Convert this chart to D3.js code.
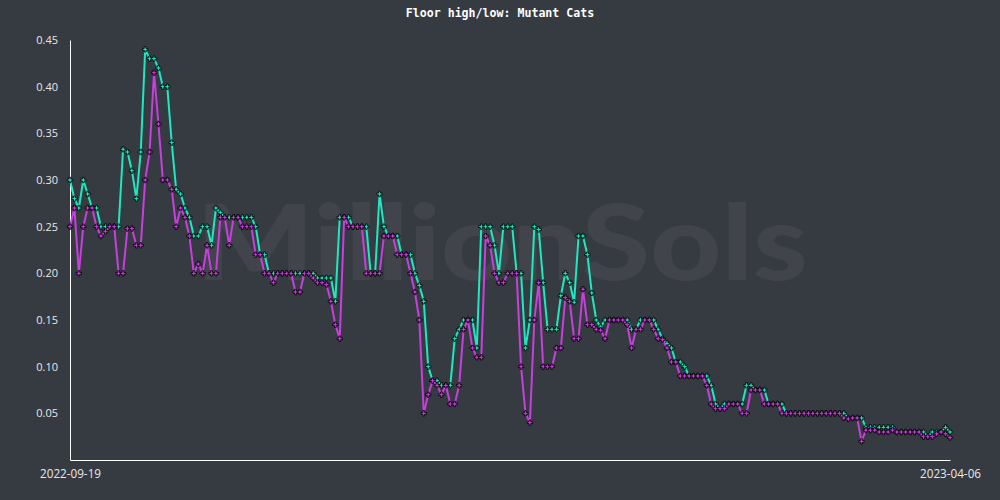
<!DOCTYPE html>
<html>
<head>
<meta charset="utf-8">
<script src="https://cdn.jsdelivr.net/npm/d3@7"></script>
<style>
  html, body { margin: 0; padding: 0; background: #363a41; }
  svg { display: block; }
</style>
</head>
<body>
<svg id="chart" width="1000" height="500"></svg>
<script>
const title = "Floor high/low: Mutant Cats";
const startDate = "2022-09-19";
const endDate = "2023-04-06";
const xTickLabels = ["2022-09-19", "2023-04-06"];
const yTicks = [0.05, 0.10, 0.15, 0.20, 0.25, 0.30, 0.35, 0.40, 0.45];

const floorHigh = [
  0.30, 0.28, 0.27, 0.30, 0.285, 0.27, 0.27, 0.25, 0.25, 0.25,
  0.25, 0.25, 0.333, 0.33, 0.31, 0.28, 0.33, 0.44, 0.43, 0.43,
  0.42, 0.40, 0.40, 0.34, 0.29, 0.285, 0.27, 0.26, 0.24, 0.24,
  0.25, 0.25, 0.23, 0.27, 0.265, 0.26, 0.26, 0.26, 0.26, 0.26,
  0.26, 0.26, 0.25, 0.22, 0.22, 0.20, 0.20, 0.20, 0.20, 0.20,
  0.20, 0.20, 0.20, 0.20, 0.20, 0.20, 0.195, 0.195, 0.195, 0.195,
  0.17, 0.26, 0.26, 0.26, 0.25, 0.25, 0.25, 0.25, 0.20, 0.20,
  0.285, 0.25, 0.24, 0.24, 0.24, 0.22, 0.22, 0.22, 0.20, 0.187,
  0.17, 0.10, 0.085, 0.085, 0.08, 0.08, 0.08, 0.13, 0.14, 0.15,
  0.15, 0.15, 0.12, 0.25, 0.25, 0.25, 0.23, 0.20, 0.25, 0.25,
  0.25, 0.20, 0.20, 0.12, 0.15, 0.25, 0.247, 0.19, 0.14, 0.14,
  0.14, 0.176, 0.20, 0.19, 0.169, 0.24, 0.24, 0.22, 0.179, 0.15,
  0.1425, 0.15, 0.15, 0.15, 0.15, 0.15, 0.15, 0.14, 0.14, 0.15,
  0.15, 0.15, 0.15, 0.14, 0.13, 0.125, 0.12, 0.105, 0.105, 0.10,
  0.09, 0.09, 0.09, 0.09, 0.09, 0.08, 0.06, 0.055, 0.06, 0.06,
  0.06, 0.06, 0.06, 0.08, 0.08, 0.075, 0.075, 0.075, 0.06, 0.06,
  0.06, 0.06, 0.05, 0.05, 0.05, 0.05, 0.05, 0.05, 0.05, 0.05,
  0.05, 0.05, 0.05, 0.05, 0.05, 0.05, 0.045, 0.045, 0.045, 0.045,
  0.035, 0.035, 0.035, 0.035, 0.035, 0.035, 0.035, 0.03, 0.03, 0.03,
  0.03, 0.03, 0.03, 0.03, 0.025, 0.03, 0.03, 0.03, 0.035, 0.03
];

const floorLow = [
  0.25, 0.27, 0.20, 0.25, 0.27, 0.27, 0.25, 0.24, 0.245, 0.25,
  0.25, 0.20, 0.20, 0.248, 0.248, 0.23, 0.23, 0.30, 0.33, 0.415,
  0.36, 0.30, 0.30, 0.29, 0.25, 0.27, 0.26, 0.24, 0.20, 0.21,
  0.20, 0.23, 0.20, 0.20, 0.26, 0.26, 0.23, 0.26, 0.26, 0.25,
  0.25, 0.25, 0.22, 0.22, 0.20, 0.20, 0.19, 0.20, 0.20, 0.20,
  0.20, 0.18, 0.18, 0.20, 0.20, 0.195, 0.19, 0.19, 0.188, 0.17,
  0.145, 0.13, 0.26, 0.25, 0.25, 0.25, 0.25, 0.20, 0.20, 0.20,
  0.20, 0.24, 0.24, 0.24, 0.22, 0.22, 0.22, 0.20, 0.18, 0.15,
  0.05, 0.07, 0.085, 0.08, 0.07, 0.08, 0.06, 0.06, 0.08, 0.14,
  0.15, 0.12, 0.11, 0.11, 0.24, 0.23, 0.20, 0.19, 0.19, 0.20,
  0.20, 0.20, 0.10, 0.05, 0.04, 0.15, 0.19, 0.10, 0.10, 0.10,
  0.12, 0.12, 0.174, 0.17, 0.13, 0.13, 0.183, 0.145, 0.145, 0.14,
  0.139, 0.13, 0.15, 0.15, 0.15, 0.15, 0.145, 0.12, 0.14, 0.14,
  0.15, 0.15, 0.14, 0.13, 0.129, 0.12, 0.105, 0.105, 0.09, 0.09,
  0.09, 0.09, 0.09, 0.09, 0.08, 0.06, 0.055, 0.055, 0.055, 0.06,
  0.06, 0.06, 0.05, 0.05, 0.075, 0.075, 0.075, 0.06, 0.06, 0.06,
  0.06, 0.05, 0.05, 0.05, 0.05, 0.05, 0.05, 0.05, 0.05, 0.05,
  0.05, 0.05, 0.05, 0.05, 0.05, 0.045, 0.044, 0.045, 0.045, 0.02,
  0.032, 0.032, 0.032, 0.03, 0.03, 0.03, 0.032, 0.03, 0.03, 0.03,
  0.03, 0.03, 0.03, 0.025, 0.025, 0.025, 0.028, 0.03, 0.028, 0.024
];

const colors = { high: "#1ee8bf", low: "#c73fdc", text: "#e8e8e8", axis: "#ffffff" };

const parse = d3.timeParse("%Y-%m-%d");
const t0 = parse(startDate), t1 = parse(endDate);
const dates = floorHigh.map((_, i) => d3.timeDay.offset(t0, i));

const svg = d3.select("#chart");
const W = 1000, H = 500;
const m = { left: 70, right: 50, top: 40, bottom: 40 };

svg.append("rect").attr("width", W).attr("height", H).attr("fill", "#363a41");

// watermark
svg.append("text")
  .attr("x", 502).attr("y", 280)
  .attr("text-anchor", "middle")
  .attr("font-family", "Lato, 'Open Sans', sans-serif")
  .attr("font-weight", 900)
  .attr("font-size", 104)
  .attr("textLength", 612)
  .attr("lengthAdjust", "spacingAndGlyphs")
  .attr("fill", "#ffffff").attr("fill-opacity", 0.055)
  .text("MillionSols");

const x = d3.scaleTime().domain([t0, t1]).range([m.left, W - m.right]);
const y = d3.scaleLinear().domain([0, 0.45]).range([H - m.bottom, m.top]);

// title
svg.append("text")
  .attr("x", 500).attr("y", 17)
  .attr("text-anchor", "middle")
  .attr("font-family", "'DejaVu Sans Mono', monospace")
  .attr("font-weight", "bold")
  .attr("font-size", 11.6)
  .attr("fill", "#ffffff")
  .text(title);

// axes
const yAxis = d3.axisLeft(y).tickValues(yTicks).tickSize(0).tickPadding(12)
  .tickFormat(d3.format(".2f"));
const gy = svg.append("g").attr("transform", `translate(${m.left},0)`).call(yAxis);
gy.select(".domain").attr("stroke", colors.axis).attr("stroke-width", 1);
gy.selectAll("text").attr("fill", colors.text).attr("font-size", 11)
  .attr("font-family", "'Open Sans', sans-serif");

const xAxis = d3.axisBottom(x).tickValues(xTickLabels.map(parse)).tickSize(0).tickPadding(10)
  .tickFormat(d3.timeFormat("%Y-%m-%d"));
const gx = svg.append("g").attr("transform", `translate(0,${H - m.bottom})`).call(xAxis);
gx.select(".domain").attr("stroke", colors.axis).attr("stroke-width", 1);
gx.selectAll("text").attr("fill", colors.text).attr("font-size", 11.7)
  .attr("font-family", "'Open Sans', sans-serif");

const line = d3.line().x((d, i) => x(dates[i])).y(d => y(d));
const sym = d3.symbol().type(d3.symbolCross).size(16);

function drawSeries(vals, color) {
  svg.append("path").datum(vals)
    .attr("fill", "none").attr("stroke", color).attr("stroke-width", 2)
    .attr("stroke-linejoin", "round")
    .attr("d", line);
  svg.append("g").selectAll("path").data(vals).join("path")
    .attr("transform", (d, i) => `translate(${x(dates[i])},${y(d)})`)
    .attr("d", sym)
    .attr("fill", color).attr("stroke", "#000").attr("stroke-width", 0.8);
}
drawSeries(floorHigh, colors.high);
drawSeries(floorLow, colors.low);
</script>
</body>
</html>
